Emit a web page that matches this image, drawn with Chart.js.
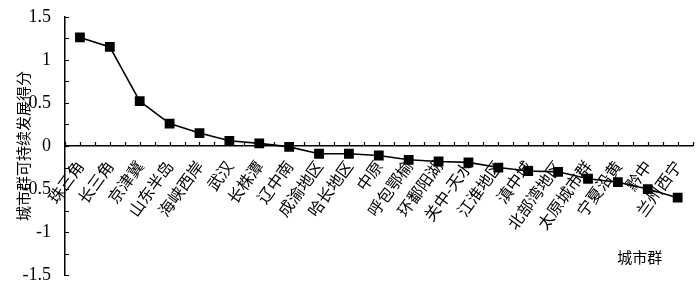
<!DOCTYPE html>
<html><head><meta charset="utf-8">
<script src="https://cdn.jsdelivr.net/npm/chart.js@4/dist/chart.umd.min.js"></script>
<style>html,body{margin:0;padding:0;background:#fff}#wrap{width:700px;height:292px;position:relative}</style>
</head><body><div id="wrap"><canvas id="c"></canvas></div>
<script>
const categories = ['珠三角','长三角','京津冀','山东半岛','海峡西岸','武汉','长株潭','辽中南','成渝地区','哈长地区','中原','呼包鄂榆','环鄱阳湖','关中-天水','江淮地区','滇中城','北部湾地区','太原城市群','宁夏沿黄','黔中','兰州西宁'];
const scores = [1.26,1.15,0.52,0.26,0.15,0.06,0.03,-0.01,-0.09,-0.09,-0.11,-0.16,-0.18,-0.19,-0.25,-0.29,-0.30,-0.38,-0.42,-0.50,-0.60];
const yTicks = [-1.5,-1,-0.5,0,0.5,1,1.5];
const yMinorStep = 0.25;
const yTitle = '城市群可持续发展得分';
const xTitle = '城市群';

const cjk = "'Noto Sans CJK SC', sans-serif";
const serif = "'Liberation Serif', 'Noto Sans CJK SC', serif";

const tickMarks = {
  id: 'tickMarks',
  afterDraw(chart) {
    const {ctx, scales: {x, y}} = chart;
    ctx.save();
    ctx.strokeStyle = '#000';
    ctx.lineWidth = 1.2;
    const y0 = y.getPixelForValue(0);
    ctx.beginPath();
    for (let i = -0.5; i <= categories.length - 0.5 + 1e-9; i += 0.5) {
      const px = Math.round(x.getPixelForValue(i)) + 0.5;
      ctx.moveTo(px, y0);
      ctx.lineTo(px, y0 - 4);
    }
    const ax = y.left + y.width;
    for (let v = yTicks[0]; v <= yTicks[yTicks.length - 1] + 1e-9; v += yMinorStep) {
      const py = Math.round(y.getPixelForValue(v)) + 0.5;
      ctx.moveTo(ax, py);
      ctx.lineTo(ax + 4, py);
    }
    ctx.stroke();
    ctx.fillStyle = '#000';
    ctx.font = "15px " + cjk;
    ctx.textAlign = 'center';
    ctx.textBaseline = 'middle';
    ctx.fillText(xTitle, x.getPixelForValue(18.73), y.getPixelForValue(-1.29));
    ctx.restore();
  }
};

new Chart(document.getElementById('c'), {
  type: 'line',
  data: {
    labels: categories,
    datasets: [{
      data: scores,
      borderColor: '#000',
      backgroundColor: '#000',
      borderWidth: 1.6,
      pointStyle: 'rect',
      pointRadius: 5.8,
      pointHoverRadius: 5.8,
      tension: 0,
      fill: false
    }]
  },
  options: {
    responsive: true,
    maintainAspectRatio: false,
    animation: false,
    events: [],
    layout: { padding: { left: 2, right: 5, top: 14, bottom: 16 } },
    plugins: { legend: { display: false }, tooltip: { enabled: false } },
    scales: {
      x: {
        type: 'category',
        position: { y: 0 },
        offset: true,
        grid: { display: false },
        border: { display: true, color: '#000', width: 1.5 },
        ticks: {
          autoSkip: false,
          minRotation: 54,
          maxRotation: 54,
          padding: 3,
          color: '#000',
          font: { family: cjk, size: 16 }
        }
      },
      y: {
        min: -1.5,
        max: 1.5,
        grid: { display: false },
        border: { display: true, color: '#000', width: 1.5 },
        afterFit(s) { s.width = 63; },
        afterBuildTicks(s) { s.ticks = yTicks.map(v => ({ value: v })); },
        ticks: {
          padding: 6,
          color: '#000',
          font: { family: serif, size: 18 },
          callback: v => String(v)
        },
        title: {
          display: true,
          text: yTitle,
          color: '#000',
          padding: { top: 12, bottom: 0 },
          font: { family: cjk, size: 15 }
        }
      }
    }
  },
  plugins: [tickMarks]
});
</script>
</body></html>
